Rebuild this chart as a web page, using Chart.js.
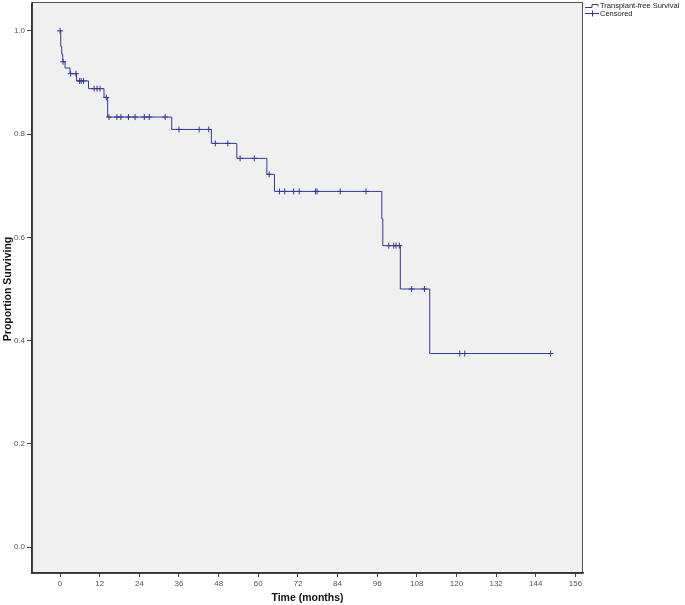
<!DOCTYPE html>
<html>
<head>
<meta charset="utf-8">
<script src="https://cdn.jsdelivr.net/npm/chart.js@4"></script>
<style>
  body { margin: 0; background: #fff; }
  #wrap { width: 685px; height: 605px; }
</style>
</head>
<body>
<div id="wrap"><canvas id="kmChart" width="685" height="605"></canvas></div>
<script>
// Kaplan-Meier steps: time of each drop (months) and survival after it
const eventTimes = [0, 0.2, 0.5, 0.8, 1.5, 3.0, 5.0, 8.6, 13.3, 14.4, 33.8, 45.8, 53.5, 62.6, 64.9, 97.4, 97.7, 103.0, 111.9, 148.5];
const survival   = [1.0, 0.97, 0.955, 0.94, 0.928, 0.917, 0.903, 0.888, 0.871, 0.833, 0.809, 0.782, 0.753, 0.722, 0.689, 0.636, 0.584, 0.500, 0.375, 0.375];

// censored observations
const censorTimes = [0, 0.9, 3.2, 4.8, 5.9, 6.4, 7.1, 10.3, 11.2, 12.1, 14.0,
  14.8, 17.2, 18.4, 20.7, 22.7, 25.5, 27.0, 31.8, 36.0, 42.1, 45.0, 47.0, 50.8,
  54.5, 58.8, 63.3, 66.4, 68.0, 70.7, 72.4, 77.3, 77.8, 84.8, 92.6,
  99.5, 101.0, 101.7, 102.7, 106.4, 110.3, 121.0, 122.5, 148.5];
const censorSurvival = [1.0, 0.94, 0.917, 0.917, 0.903, 0.903, 0.903, 0.888, 0.888, 0.888, 0.871,
  0.833, 0.833, 0.833, 0.833, 0.833, 0.833, 0.833, 0.833, 0.809, 0.809, 0.809, 0.782, 0.782,
  0.753, 0.753, 0.722, 0.689, 0.689, 0.689, 0.689, 0.689, 0.689, 0.689, 0.689,
  0.584, 0.584, 0.584, 0.584, 0.500, 0.500, 0.375, 0.375, 0.375];

const xTicks = [0, 12, 24, 36, 48, 60, 72, 84, 96, 108, 120, 132, 144, 156];
const yTicks = [0.0, 0.2, 0.4, 0.6, 0.8, 1.0];

const lineColor = '#353a8a';

// gray plot background with a frame, legend drawn to the right
const plotFrame = {
    id: 'plotFrame',
    beforeDraw(chart) {
        const a = chart.chartArea;
        const ctx = chart.ctx;
        const top = 2;
        ctx.save();
        ctx.fillStyle = '#f0f0f0';
        ctx.fillRect(a.left, top, a.right - a.left, a.bottom - top);
        ctx.strokeStyle = '#555';
        ctx.lineWidth = 1;
        ctx.strokeRect(a.left + 0.5, top + 0.5, a.right - a.left - 1, a.bottom - top);
        ctx.restore();
    },
    afterDraw(chart) {
        const ctx = chart.ctx;
        const x0 = chart.chartArea.right + 2;
        ctx.save();
        // left axis line up to the top of the frame
        ctx.strokeStyle = '#333';
        ctx.lineWidth = 1.5;
        ctx.beginPath();
        ctx.moveTo(chart.chartArea.left, 2);
        ctx.lineTo(chart.chartArea.left, chart.chartArea.top + 1);
        ctx.stroke();

        ctx.strokeStyle = lineColor;
        ctx.lineWidth = 1;
        ctx.beginPath();
        ctx.moveTo(x0, 7.5);
        ctx.lineTo(x0 + 7, 7.5);
        ctx.lineTo(x0 + 7, 4.5);
        ctx.lineTo(x0 + 13, 4.5);
        ctx.lineTo(x0 + 13, 6.5);
        ctx.stroke();
        ctx.beginPath();
        ctx.moveTo(x0, 13.5);
        ctx.lineTo(x0 + 14, 13.5);
        ctx.moveTo(x0 + 7.5, 10.5);
        ctx.lineTo(x0 + 7.5, 16.5);
        ctx.stroke();
        ctx.fillStyle = '#222';
        ctx.font = '7.5px "Liberation Sans", Arial, sans-serif';
        ctx.textBaseline = 'middle';
        ctx.fillText('Transplant-free Survival', x0 + 15, 6);
        ctx.fillText('Censored', x0 + 15, 14);
        ctx.restore();
    }
};

const curvePts = eventTimes.map((t, i) => ({ x: t, y: survival[i] }));
const censorPts = censorTimes.map((t, i) => ({ x: t, y: censorSurvival[i] }));

new Chart(document.getElementById('kmChart').getContext('2d'), {
    type: 'scatter',
    data: {
        datasets: [{
            label: 'Transplant-free Survival',
            data: curvePts,
            showLine: true,
            stepped: true,
            borderColor: lineColor,
            borderWidth: 1,
            pointRadius: 0,
            fill: false
        }, {
            label: 'Censored',
            data: censorPts,
            showLine: false,
            pointStyle: 'cross',
            pointRadius: 3,
            borderColor: lineColor,
            backgroundColor: lineColor,
            borderWidth: 1
        }]
    },
    options: {
        responsive: false,
        animation: false,
        layout: { padding: { top: 2, right: 102, left: 0, bottom: 0 } },
        plugins: {
            legend: { display: false },
            tooltip: { enabled: false }
        },
        scales: {
            x: {
                type: 'linear',
                min: -8.5,
                max: 158.3,
                afterBuildTicks: scale => { scale.ticks = xTicks.map(v => ({ value: v })); },
                afterFit: scale => { scale.height = 32; },
                grid: { drawOnChartArea: false, drawTicks: true, tickLength: 4, color: '#444' },
                border: { display: true, color: '#333', width: 1.5 },
                ticks: {
                    autoSkip: false, maxRotation: 0, padding: 2, color: '#555',
                    font: { family: '"Liberation Sans", Arial, sans-serif', size: 8 }
                },
                title: {
                    display: true, text: 'Time (months)', color: '#111',
                    padding: { top: 0, bottom: 1 },
                    font: { family: '"Liberation Sans", Arial, sans-serif', size: 10.5, weight: 'bold' }
                }
            },
            y: {
                type: 'linear',
                min: -0.05,
                max: 1.05,
                afterBuildTicks: scale => { scale.ticks = yTicks.map(v => ({ value: v })); },
                afterFit: scale => {
                    scale.width = 32;
                    scale.paddingTop = 0;
                    scale.paddingBottom = 0;
                },
                grid: { drawOnChartArea: false, drawTicks: true, tickLength: 5, color: '#444' },
                border: { display: true, color: '#333', width: 1.5 },
                ticks: {
                    padding: 2, color: '#555',
                    callback: v => v.toFixed(1),
                    font: { family: '"Liberation Sans", Arial, sans-serif', size: 8 }
                },
                title: {
                    display: true, text: 'Proportion Surviving', color: '#111',
                    padding: { top: 2, bottom: 0 },
                    font: { family: '"Liberation Sans", Arial, sans-serif', size: 10.5, weight: 'bold' }
                }
            }
        }
    },
    plugins: [plotFrame]
});
</script>
</body>
</html>
